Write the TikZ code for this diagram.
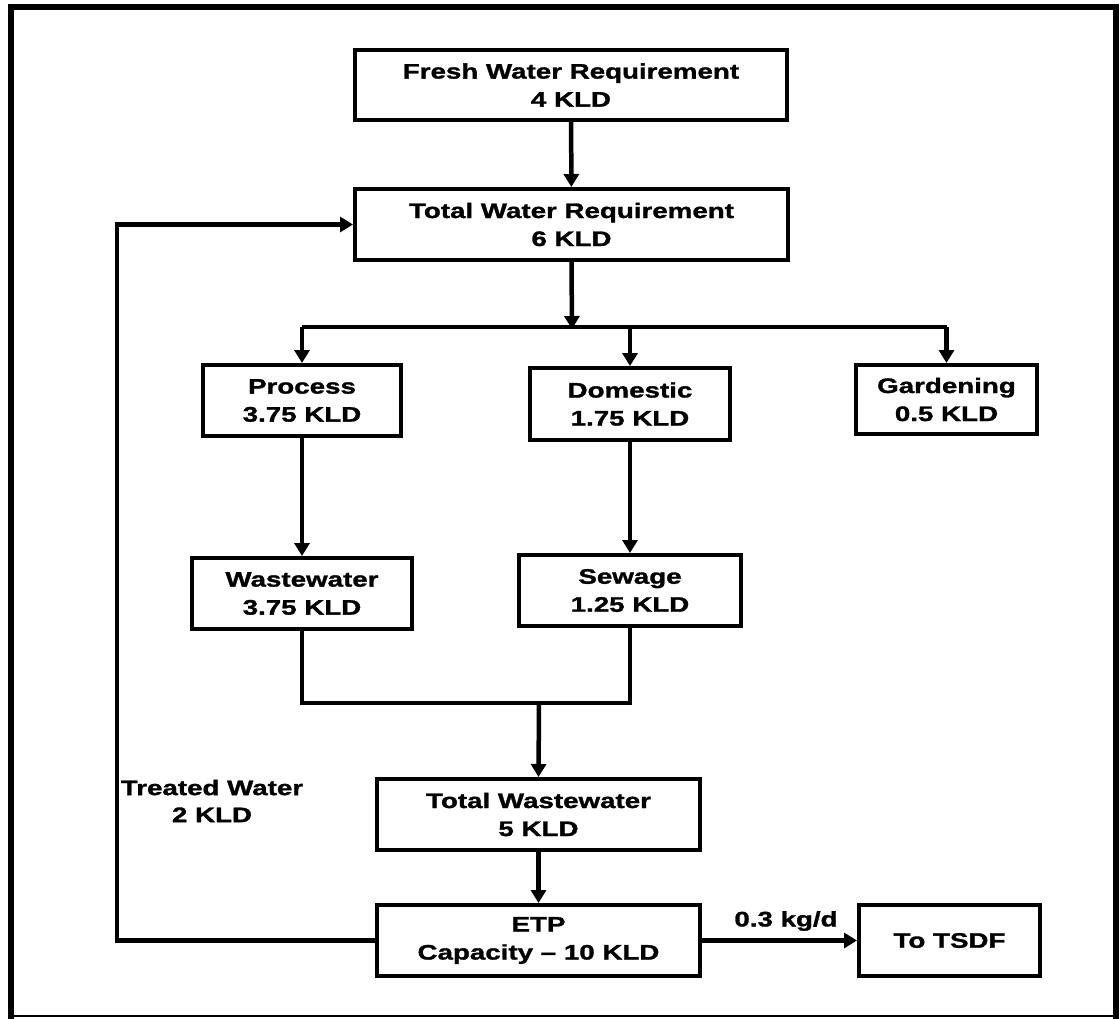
\documentclass[tikz,border=0pt]{standalone}
\usepackage{fontspec}
\newfontfamily\lab{Liberation Sans Bold}[FakeStretch=1.32,FakeBold=1.4,Ligatures=TeX]
\usetikzlibrary{arrows.meta}
\begin{document}
\begin{tikzpicture}[x=1pt,y=-1pt,
  box/.style={draw, line width=4pt, inner sep=0pt, align=center,
    font=\lab\fontsize{21}{28}\selectfont},
  lbl/.style={inner sep=0pt, align=center, font=\lab\fontsize{21}{27}\selectfont},
  conn/.style={line width=4.5pt},
  arr/.style={conn, -{Triangle[width=15pt,length=13pt]}},
  frame/.style={line width=6pt}]
\useasboundingbox (0,0) rectangle (1120,1019);
% frame
\draw[frame] (11,1019) -- (11,7) -- (1116,7) -- (1116,1019);
\draw[line width=2pt] (11,1016) -- (1116,1016);
% boxes
\node[box, minimum width=432pt, minimum height=70pt] (fresh) at (571,85) {Fresh Water Requirement\\4 KLD};
\node[box, minimum width=433pt, minimum height=71pt] (total) at (571.5,224.5) {Total Water Requirement\\6 KLD};
\node[box, minimum width=198pt, minimum height=71pt] (process) at (302,400.5) {Process\\3.75 KLD};
\node[box, minimum width=200pt, minimum height=72pt] (domestic) at (630,404) {Domestic\\1.75 KLD};
\node[box, minimum width=181pt, minimum height=69pt] (garden) at (946.5,399.5) {Gardening\\0.5 KLD};
\node[box, minimum width=220pt, minimum height=71pt] (waste) at (302,593.5) {Wastewater\\3.75 KLD};
\node[box, minimum width=222pt, minimum height=71pt] (sewage) at (630,590.5) {Sewage\\1.25 KLD};
\node[box, minimum width=323pt, minimum height=71pt] (totalww) at (538.5,814.5) {Total Wastewater\\5 KLD};
\node[box, minimum width=323pt, minimum height=71pt] (etp) at (538.5,940.5) {ETP\\Capacity – 10 KLD};
\node[box, minimum width=181pt, minimum height=71pt] (tsdf) at (949.5,940.5) {To TSDF};
% labels
\node[lbl] (kg) at (786,921) {0.3 kg/d};
\node[lbl] (tw) at (212,801) {Treated Water\\2 KLD};
% helper coordinates
\coordinate (b) at (572,327);
\coordinate (m) at (539,703);
\coordinate (r) at (117,942);
% connectors
\draw[arr] (fresh) -- (total);
\draw[arr] (total.south) -- ([yshift=-2pt]b);
\draw[conn] (process.north |- b) -- (garden.north |- b);
\draw[arr] (process.north |- b) -- (process.north);
\draw[arr] (domestic.north |- b) -- (domestic.north);
\draw[arr] (garden.north |- b) -- (garden.north);
\draw[arr] (process) -- (waste);
\draw[arr] (domestic) -- (sewage);
\draw[conn] (waste.south) -- (waste.south |- m) -- (sewage.south |- m) -- (sewage.south);
\draw[arr] (m) -- (totalww.north);
\draw[arr] (totalww) -- (etp);
\draw[arr] (etp) -- (tsdf);
\draw[arr] (etp.west) -- (etp.west -| r) -- (total.west -| r) -- (total.west);
\end{tikzpicture}
\end{document}
